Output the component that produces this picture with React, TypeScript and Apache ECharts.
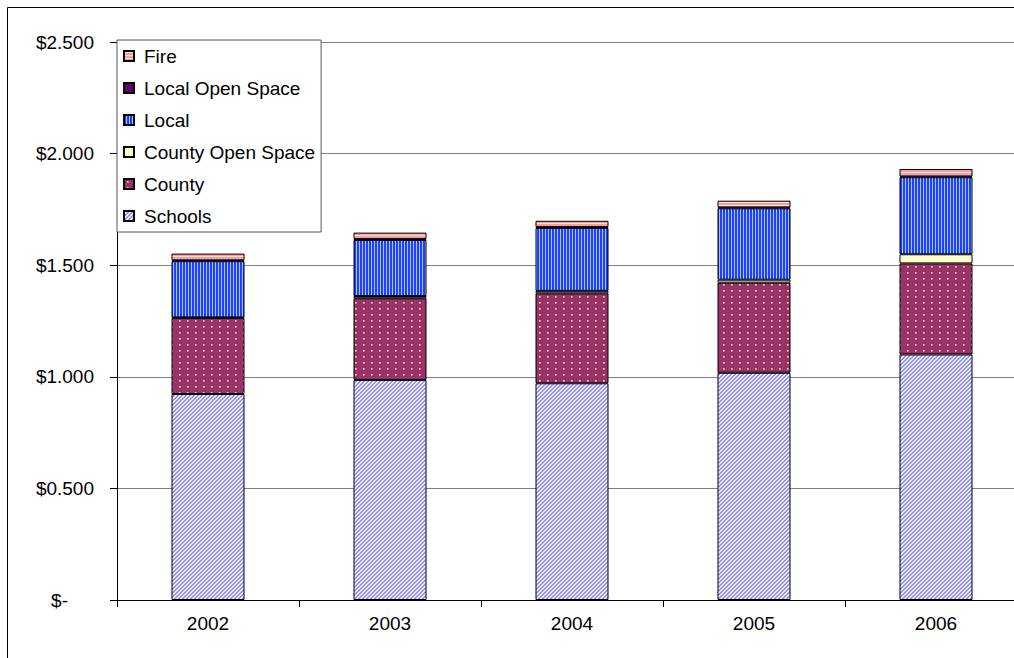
import React, { useEffect, useRef } from "react";
import * as echarts from "echarts";

const categories = ["2002", "2003", "2004", "2005", "2006"];
const schools = [0.923, 0.986, 0.971, 1.018, 1.1];
const county = [0.34, 0.366, 0.403, 0.404, 0.408];
const countyOpenSpace = [0.003, 0.01, 0.011, 0.013, 0.041];
const local = [0.252, 0.251, 0.282, 0.32, 0.345];
const localOpenSpace = [0.004, 0.004, 0.004, 0.004, 0.004];
const fire = [0.03, 0.029, 0.028, 0.03, 0.033];
const yTickLabels = ["$-", "$0.500", "$1.000", "$1.500", "$2.000", "$2.500"];
const legendOrder = ["Fire", "Local Open Space", "Local", "County Open Space", "County", "Schools"];

const FONT = "'Liberation Sans', Arial, sans-serif";

function makePattern(w: number, h: number, pix: (x: number, y: number) => string) {
  const c = document.createElement("canvas");
  c.width = w;
  c.height = h;
  const ctx = c.getContext("2d")!;
  for (let y = 0; y < h; y++) {
    for (let x = 0; x < w; x++) {
      ctx.fillStyle = pix(x, y);
      ctx.fillRect(x, y, 1, 1);
    }
  }
  return { image: c.toDataURL(), repeat: "repeat", imageWidth: w, imageHeight: h } as any;
}

export default function App() {
  const ref = useRef<HTMLDivElement>(null);
  useEffect(() => {
    if (!ref.current) return;
    document.body.style.overflow = "hidden";
    const chart = echarts.init(ref.current, null, { renderer: "svg" });

    const schoolsPat = makePattern(8, 8, (x, y) => (((x + y) % 4) < 2 ? "#8F8FF5" : "#EEEEFF"));
    const countyPat = makePattern(8, 6, (x, y) =>
      x >= 3 && x <= 4 && y >= 2 && y <= 3 ? (x === 3 && y === 2 ? "#F2D2E2" : "#C886A8") : "#993366"
    );
    const localPat = makePattern(3, 4, (x) => (x === 2 ? "#A8C4FF" : "#2040FF"));
    const firePat = makePattern(4, 3, (_x, y) => (y === 1 ? "#FFE2E2" : "#FF9C9C"));

    const border = { borderColor: "#000", borderWidth: 1 };
    const mk = (name: string, data: number[], color: any) => ({
      name,
      type: "bar",
      stack: "total",
      barWidth: 73,
      data,
      itemStyle: { color, ...border },
      emphasis: { disabled: true },
    });

    chart.setOption({
      animation: false,
      backgroundColor: "#fff",
      textStyle: { fontFamily: FONT },
      grid: { left: 117, top: 42, width: 910, height: 558, containLabel: false },
      legend: {
        data: legendOrder,
        orient: "vertical",
        left: 117,
        top: 40,
        itemWidth: 10,
        itemHeight: 10,
        itemGap: 12,
        padding: [6, 6, 6, 6],
        backgroundColor: "#fff",
        borderColor: "#555",
        borderWidth: 1,
        icon: "rect",
        selectedMode: false,
        textStyle: {
          fontFamily: FONT,
          fontSize: 19,
          color: "#000",
          lineHeight: 20,
          padding: [0, 0, 0, 5],
        },
      },
      xAxis: {
        type: "category",
        data: categories,
        axisLine: { show: true, lineStyle: { color: "#000", width: 1 } },
        axisTick: { show: true, length: 7, lineStyle: { color: "#000" } },
        axisLabel: { fontFamily: FONT, fontSize: 19, color: "#000", margin: 14 },
      },
      yAxis: {
        type: "value",
        min: 0,
        max: 2.5,
        interval: 0.5,
        axisLine: { show: true, lineStyle: { color: "#000", width: 1 } },
        axisTick: { show: true, length: 7, lineStyle: { color: "#000" } },
        splitLine: { show: true, lineStyle: { color: "#808080", width: 1 } },
        axisLabel: {
          fontFamily: FONT,
          fontSize: 19,
          color: "#000",
          margin: 23,
          formatter: (v: number) => {
            const i = Math.round(v / 0.5);
            const t = yTickLabels[i] ?? "";
            return i === 0 ? "{z|" + t + "}" : t;
          },
          rich: { z: { fontFamily: FONT, fontSize: 19, color: "#000", padding: [0, 26, 0, 0] } },
        },
      },
      graphic: [
        {
          type: "rect",
          silent: true,
          z: 100,
          shape: { x: 7.5, y: 7.5, width: 1100, height: 1000 },
          style: { fill: "none", stroke: "#000", lineWidth: 1 },
        },
      ],
      series: [
        mk("Schools", schools, schoolsPat),
        mk("County", county, countyPat),
        mk("County Open Space", countyOpenSpace, "#FFFFCC"),
        mk("Local", local, localPat),
        mk("Local Open Space", localOpenSpace, "#660066"),
        mk("Fire", fire, firePat),
      ],
    });
    return () => chart.dispose();
  }, []);
  return (
    <div
      ref={ref}
      style={{ position: "fixed", left: 0, top: 0, width: 1060, height: 700, background: "#fff" }}
    />
  );
}
